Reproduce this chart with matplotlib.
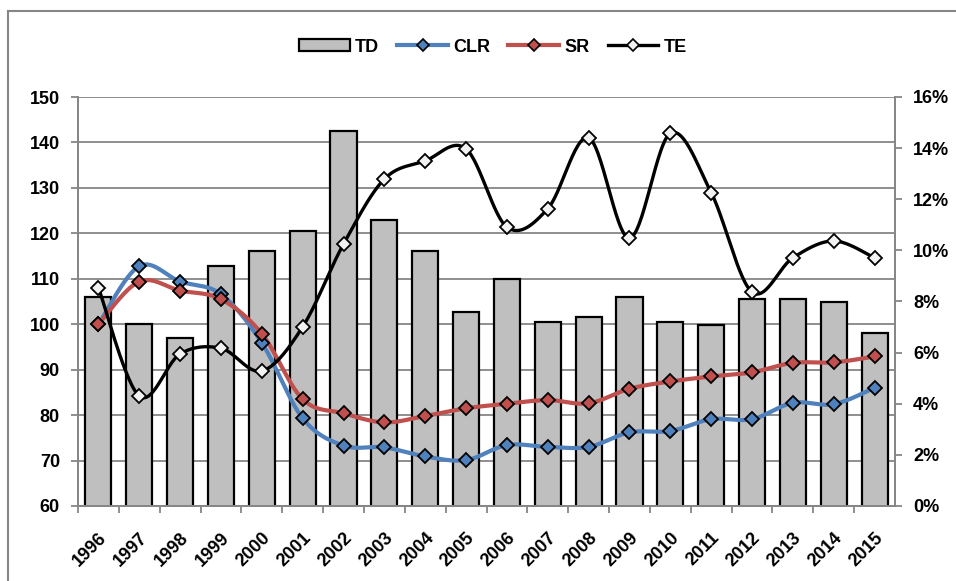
import numpy as np
import matplotlib.pyplot as plt
from matplotlib.lines import Line2D
from matplotlib.patches import Patch
from matplotlib.ticker import FuncFormatter

plt.rcParams["font.family"] = ["Liberation Sans", "DejaVu Sans"]
plt.rcParams["font.weight"] = "bold"

# =========================
# DATA
# =========================
YEARS = [str(y) for y in range(1996, 2016)]

TD = [106.1, 100.0, 97.0, 112.8, 116.1, 120.6, 142.6, 122.9, 116.1, 102.7,
      110.0, 100.4, 101.6, 106.0, 100.4, 99.8, 105.5, 105.5, 105.0, 98.1]

CLR = [100.0, 112.8, 109.4, 106.6, 95.9, 79.3, 73.3, 72.9, 70.9, 70.1,
       73.4, 73.0, 73.0, 76.2, 76.5, 79.1, 79.1, 82.7, 82.4, 86.0]

SR = [100.0, 109.4, 107.4, 105.5, 97.9, 83.5, 80.4, 78.4, 79.8, 81.5,
      82.5, 83.3, 82.6, 85.8, 87.4, 88.5, 89.4, 91.5, 91.6, 92.9]

# TE in percent, right axis
TE = [8.54, 4.30, 5.95, 6.17, 5.28, 7.01, 10.25, 12.79, 13.50, 13.97,
      10.91, 11.63, 14.40, 10.48, 14.58, 12.26, 8.37, 9.71, 10.37, 9.71]

BLUE = "#4F81BD"
RED = "#C0504D"
BAR = "#BFBFBF"
GRID = "#868686"


def smooth(x, y, n=30):
    """Catmull-Rom curve through the points, like a spreadsheet 'smoothed line'."""
    x = np.asarray(x, float)
    y = np.asarray(y, float)
    px = np.concatenate([[x[0]], x, [x[-1]]])
    py = np.concatenate([[y[0]], y, [y[-1]]])
    xs, ys = [], []
    t = np.linspace(0, 1, n, endpoint=False)
    for i in range(1, len(px) - 2):
        for p, out in ((px, xs), (py, ys)):
            p0, p1, p2, p3 = p[i - 1], p[i], p[i + 1], p[i + 2]
            out.append(0.5 * ((2 * p1) + (-p0 + p2) * t
                              + (2 * p0 - 5 * p1 + 4 * p2 - p3) * t ** 2
                              + (-p0 + 3 * p1 - 3 * p2 + p3) * t ** 3))
    xs.append([x[-1]])
    ys.append([y[-1]])
    return np.concatenate(xs), np.concatenate(ys)


W, H = 956, 581
fig = plt.figure(figsize=(W / 100, H / 100), dpi=100)

# outer chart border (left and top edges visible)
fig.add_artist(Line2D([8 / W, 8 / W], [0, 1 - 11 / H], color=GRID, lw=1.5,
                      transform=fig.transFigure))
fig.add_artist(Line2D([8 / W, 1], [1 - 11 / H, 1 - 11 / H], color=GRID, lw=1.5,
                      transform=fig.transFigure))

ax = fig.add_axes([78 / W, (H - 506) / H, (895 - 78) / W, (506 - 97) / H])
x = np.arange(len(YEARS))

ax.bar(x, TD, width=0.64, color=BAR, edgecolor="black", linewidth=1.6,
       zorder=2, bottom=0)
ax.set_ylim(60, 150)
ax.set_xlim(-0.5, len(YEARS) - 0.5)
ax.set_yticks(np.arange(60, 151, 10))
ax.yaxis.grid(True, color=GRID, lw=1.3, zorder=0)
ax.set_axisbelow(True)

for vals, col in ((CLR, BLUE), (SR, RED)):
    sx, sy = smooth(x, vals)
    ax.plot(sx, sy, color=col, lw=3, zorder=3, solid_capstyle="round")
    ax.plot(x, vals, ls="none", marker="D", ms=7.5, mfc=col, mec="black",
            mew=1.3, zorder=4)

ax2 = ax.twinx()
ax2.set_ylim(0, 16)
ax2.set_yticks(np.arange(0, 17, 2))
ax2.yaxis.set_major_formatter(FuncFormatter(lambda v, p: f"{v:.0f}%"))
sx, sy = smooth(x, TE)
ax2.plot(sx, sy, color="black", lw=2.4, zorder=3)
ax2.plot(x, TE, ls="none", marker="D", ms=7.5, mfc="#F2F2F2", mec="black",
         mew=1.3, zorder=4)

for a in (ax, ax2):
    a.spines["top"].set_visible(False)
    for s in ("left", "right", "bottom"):
        a.spines[s].set_color(GRID)
        a.spines[s].set_linewidth(1.3)
    a.tick_params(axis="y", colors=GRID, length=5, width=1.3, labelsize=13,
                  labelcolor="black", pad=8)

# tick marks between categories, year labels centred under each bar
ax.set_xticks(x - 0.5, [""] * len(x))
ax.set_xticks(x, YEARS, minor=True)
ax.tick_params(axis="x", which="major", colors=GRID, length=5, width=1.3)
ax.tick_params(axis="x", which="minor", length=0, labelsize=13, pad=17)
for lab in ax.get_xticklabels(minor=True):
    lab.set_rotation(45)
    lab.set_ha("right")
    lab.set_va("top")
    lab.set_rotation_mode("anchor")
    lab.set_fontweight("bold")
for a in (ax, ax2):
    for lab in a.get_yticklabels():
        lab.set_fontweight("bold")

handles = [
    Patch(facecolor=BAR, edgecolor="black", linewidth=1.6),
    Line2D([], [], color=BLUE, lw=3, marker="D", ms=6, mfc=BLUE, mec="black", mew=1.2),
    Line2D([], [], color=RED, lw=3, marker="D", ms=6, mfc=RED, mec="black", mew=1.2),
    Line2D([], [], color="black", lw=2.4, marker="D", ms=6, mfc="#F2F2F2", mec="black", mew=1.2),
]
fig.legend(handles, ["TD", "CLR", "SR", "TE"], loc="center",
           bbox_to_anchor=(493 / W, 1 - 47 / H), ncol=4, frameon=False,
           handlelength=2.8, handleheight=0.6, handletextpad=0.3,
           columnspacing=1.0, prop={"weight": "bold", "size": 13})

fig.savefig("out.png", dpi=100)
